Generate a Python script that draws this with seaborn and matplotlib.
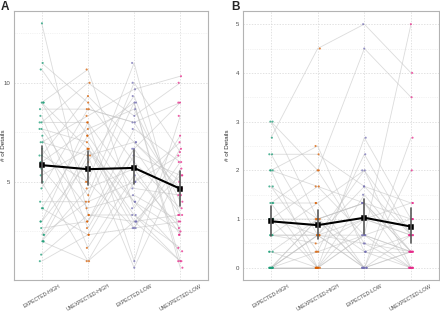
import matplotlib

matplotlib.use("Agg")
import matplotlib.pyplot as plt
import numpy as np
import pandas as pd
import seaborn as sns
from matplotlib.ticker import FixedLocator

CONDITIONS = ["EXPECTED-HIGH", "UNEXPECTED-HIGH", "EXPECTED-LOW", "UNEXPECTED-LOW"]
PALETTE = ["#1B9E77", "#D95F02", "#7570B3", "#E7298A"]

# Panel A: mean # of details per subject (same subject order in every list)
a_exp_high = [13, 11, 10.67, 9, 9, 9, 8.67, 8.33, 8, 8, 7.67, 7.67, 7.33, 7, 7, 6.67, 6.33, 6.33,
              6, 5.67, 5.33, 5, 4.67, 4, 3.67, 3.67, 3, 3, 2.67, 2.33, 2.33, 2, 2, 2, 1.33, 1]
a_unexp_high = [3.33, 9, 7.33, 10.67, 5, 6.67, 8.67, 2.67, 8, 10, 4.33, 7, 1.67, 6.33, 8.33, 3.67, 9.33, 5,
                7.67, 3, 6.67, 1, 8.67, 4, 7.33, 2.33, 8, 6, 3, 6.67, 4, 1, 6.33, 4.67, 3.33, 2.33]
a_exp_low = [3, 6, 9, 3.67, 11, 2.67, 8, 6.67, 4.67, 8.33, 10, 3, 5.33, 0.67, 9.67, 4.33, 7, 2.67,
             8.67, 6.67, 3.33, 5, 8, 9, 4, 6.33, 1, 9.33, 7.67, 4, 5, 3, 7, 5.67, 3.33, 2.67]
a_unexp_low = [5.33, 3.67, 1, 7.33, 2.33, 6, 9, 3.33, 4.33, 10, 6.5, 1, 2.67, 5.67, 10.33, 3, 5, 6.67,
               4, 9, 1.67, 6.33, 4.33, 0.67, 2.5, 5.33, 8.33, 3.33, 6, 1.5, 7, 3.33, 4.67, 2.33, 1, 3]

# Panel B
b_exp_high = [2.67, 3, 0, 3, 2.33, 2.33, 2, 2, 2, 1.67, 1.67, 1.33, 1.33, 1.33, 1, 1, 1, 1,
              0.67, 0.67, 0.67, 0.67, 0.33, 0.33, 0.33, 0, 0, 0, 0, 0, 0, 0, 0, 0, 0, 0]
b_unexp_high = [4.5, 2, 0, 1, 2.33, 0.67, 2.5, 0, 1.67, 0.33, 1, 1.33, 0, 2, 0.67, 1.67, 0, 1,
                0.67, 0.67, 1.33, 0.5, 1, 0.33, 0, 0.67, 1, 0, 0, 0.67, 0.33, 0, 1, 0.67, 0, 0]
b_exp_low = [5, 4.5, 0.67, 1.33, 1.67, 0, 0.33, 2.67, 0.67, 2.33, 0, 2, 1, 0.5, 2, 1.33, 1.5, 0.33,
             0.67, 1.67, 0, 1, 1.33, 0.33, 0.67, 0.5, 1.33, 0, 0, 1, 0.67, 0, 0, 0, 0, 0]
b_unexp_low = [4, 3.5, 5, 0.33, 0.67, 2.67, 0, 1, 0.33, 0.67, 2, 0, 1.33, 0.33, 0.67, 1, 0.33, 0.67,
               0, 1.33, 0.33, 0.67, 0, 0.33, 1, 0, 0.33, 0, 0, 0.67, 0.33, 0, 0.67, 0.33, 0, 0]


def to_long(cols):
    wide = pd.DataFrame(dict(zip(CONDITIONS, cols)))
    wide["subject"] = range(len(wide))
    df = wide.melt(id_vars="subject", var_name="condition", value_name="details")
    df["pos"] = df["condition"].map({c: i for i, c in enumerate(CONDITIONS)})
    return df


def draw_panel(ax, df, ylim, major, minor, label_x):
    # subject trajectories
    sns.lineplot(data=df, x="pos", y="details", units="subject", estimator=None,
                 color="#c4c4c4", linewidth=0.6, alpha=0.6, ax=ax, zorder=1)
    sns.stripplot(data=df, x="condition", y="details", hue="condition", order=CONDITIONS,
                  palette=PALETTE, jitter=0.05, size=1.5, alpha=0.75, linewidth=0,
                  legend=False, ax=ax, zorder=2)
    sns.pointplot(data=df, x="condition", y="details", order=CONDITIONS, color="black",
                  errorbar=("ci", 95), seed=1, markers="s", markersize=2.2, linewidth=1.5,
                  err_kws={"color": "#5a5a5a", "linewidth": 1.2}, ax=ax, zorder=5)

    ax.set_xlim(-0.6, 3.6)
    ax.set_ylim(*ylim)
    ax.yaxis.set_major_locator(FixedLocator(major))
    ax.yaxis.set_minor_locator(FixedLocator(minor))
    ax.set_yticklabels([f"{v:g}" for v in major])
    ax.set_xticks(range(4))
    ax.set_xticklabels(CONDITIONS, rotation=30, ha="center", fontsize=3.7, color="#4d4d4d")
    ax.tick_params(axis="y", labelsize=4.4, labelcolor="#4d4d4d", length=1.5, width=0.4,
                   color="#b3b3b3", pad=1)
    ax.tick_params(axis="y", which="minor", length=0)
    ax.tick_params(axis="x", length=1.5, width=0.4, color="#b3b3b3", pad=0.8)
    ax.set_xlabel("")
    ax.set_ylabel("# of Details", fontsize=4.6, color="#333333")
    ax.yaxis.set_label_coords(label_x, 0.5)

    ax.set_axisbelow(True)
    ax.grid(which="major", color="#d6d6d6", linewidth=0.5, linestyle=(0, (2, 2)))
    ax.grid(which="minor", axis="y", color="#e8e8e8", linewidth=0.4, linestyle=(0, (2, 2)))
    for s in ax.spines.values():
        s.set_visible(True)
        s.set_color("#b3b3b3")
        s.set_linewidth(0.8)
    ax.set_facecolor("white")


sns.set_style("white")
plt.rcParams["font.family"] = ["Liberation Sans", "DejaVu Sans"]
np.random.seed(3)

fig = plt.figure(figsize=(4.4, 3.13), dpi=100)
ax_a = fig.add_axes([14 / 440, 33 / 313, 194 / 440, 269 / 313])
ax_b = fig.add_axes([243 / 440, 33 / 313, 196 / 440, 269 / 313])

df_a = to_long([a_exp_high, a_unexp_high, a_exp_low, a_unexp_low])
df_b = to_long([b_exp_high, b_unexp_high, b_exp_low, b_unexp_low])

draw_panel(ax_a, df_a, (0.05, 13.62), [5, 10], [2.5, 7.5, 12.5], -0.04)
draw_panel(ax_b, df_b, (-0.25, 5.27), [0, 1, 2, 3, 4, 5], [0.5, 1.5, 2.5, 3.5, 4.5], -0.065)

fig.text(1 / 440, 1 - 1 / 313, "A", ha="left", va="top", fontsize=8.5, fontweight="bold")
fig.text(231 / 440, 1 - 1 / 313, "B", ha="left", va="top", fontsize=8.5, fontweight="bold")

fig.savefig("out.png", dpi=100)
